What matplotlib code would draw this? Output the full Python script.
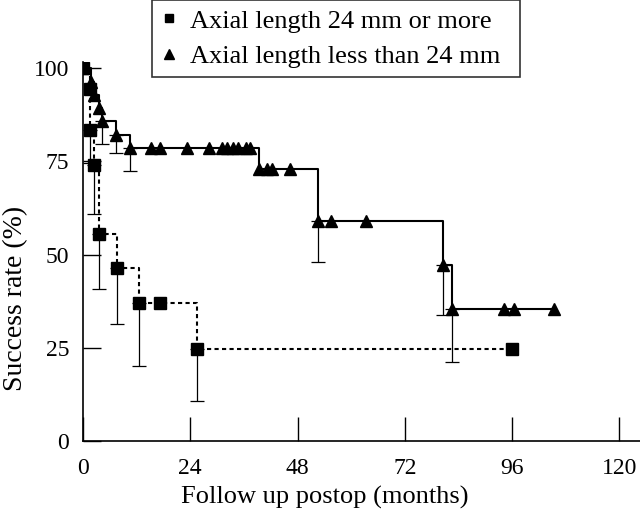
import numpy as np
import matplotlib
matplotlib.use("Agg")
from matplotlib import pyplot as plt
from matplotlib.lines import Line2D

plt.rcParams['font.family'] = ['Liberation Serif', 'DejaVu Serif']

# axial length 24 mm or more (squares, dotted)
long_t = [0, 1.5, 1.6, 2.5, 3.6, 7.5, 12.5, 25.4, 96]
long_s = [100, 94.4, 83.3, 74.1, 55.6, 46.3, 37.0, 24.7, 24.7]
long_lo = [np.nan, np.nan, 74.5, 61.0, 40.8, 31.4, 20.1, 10.8, np.nan]
long_cens_t = [17.2]
long_cens_s = [37.0]

# axial length less than 24 mm (triangles, solid)
short_t = [0, 1.7, 2.5, 3.6, 4.3, 7.3, 10.5, 39.4, 52.6, 80.5, 82.5, 105.4]
short_s = [100, 96.4, 92.9, 89.3, 85.7, 82.1, 78.6, 73.0, 59.1, 47.3, 35.5, 35.5]
short_lo = [np.nan, np.nan, np.nan, np.nan, 79.6, 77.2, 72.5, np.nan, 47.9, 33.8, 21.3, np.nan]
short_cens_t = [15.2, 17.2, 23.2, 28.2, 31.2, 32.3, 33.5, 34.6, 36.4, 37.4,
                41.2, 42.3, 46.4, 55.5, 63.3, 94.2, 96.4]
short_cens_s = [78.6] * 10 + [73.0] * 3 + [59.1] * 2 + [35.5] * 2

labels = ['Axial length 24 mm or more', 'Axial length less than 24 mm']


def draw_group(ax, t, s, lo, ct, cs, marker, ls, ms):
    t = np.array(t); s = np.array(s); lo = np.array(lo)
    ax.step(t, s, where='post', color='black', linestyle=ls, lw=1.5, zorder=2)
    ok = ~np.isnan(lo)
    ax.errorbar(t[ok], s[ok], yerr=[s[ok] - lo[ok], np.zeros(ok.sum())],
                fmt='none', ecolor='black', elinewidth=0.9, capsize=5,
                capthick=0.9, zorder=1)
    ax.plot(t, s, linestyle='none', marker=marker, color='black', ms=ms, zorder=3)
    ax.plot(ct, cs, linestyle='none', marker=marker, color='black', ms=ms, zorder=3)


fig = plt.figure(figsize=(6.4, 5.14), dpi=100)
ax = fig.add_axes([0.1297, 0.142, 0.870, 0.737])

draw_group(ax, long_t, long_s, long_lo, long_cens_t, long_cens_s, 's', (0, (2, 1.6)), 8)
draw_group(ax, short_t, short_s, short_lo, short_cens_t, short_cens_s, '^', '-', 9)

ax.set_xlim(0, 124.6)
ax.set_ylim(0, 101.6)
ax.set_xticks([0, 24, 48, 72, 96, 120])
ax.set_yticks([0, 25, 50, 75, 100])
ax.spines['top'].set_visible(False)
ax.spines['right'].set_visible(False)
for sp in ['left', 'bottom']:
    ax.spines[sp].set_linewidth(1.2)
ax.tick_params(axis='x', direction='in', length=17, width=1, labelsize=17, pad=12)
ax.tick_params(axis='y', direction='in', length=13, width=1, labelsize=17, pad=10)
ax.set_xlabel('Follow up postop (months)', fontsize=19, labelpad=5)
ax.xaxis.label.set_x(0.434)
ax.set_ylabel('Success rate (%)', fontsize=20)
ax.yaxis.set_label_coords(-0.098, 0.377)

handles = [Line2D([], [], color='black', marker='s', ls='none', ms=6),
           Line2D([], [], color='black', marker='^', ls='none', ms=7)]
leg = fig.legend(handles, labels, loc='upper left',
                 bbox_to_anchor=(152 / 640, 0.0, 368 / 640, 1.0), mode='expand',
                 fontsize=19, frameon=True, fancybox=False, edgecolor='black',
                 handlelength=0.6, handletextpad=0.5, borderpad=0.35,
                 labelspacing=0.45, borderaxespad=0)
leg.get_frame().set_linewidth(1.2)

fig.savefig('out.png', dpi=100)
